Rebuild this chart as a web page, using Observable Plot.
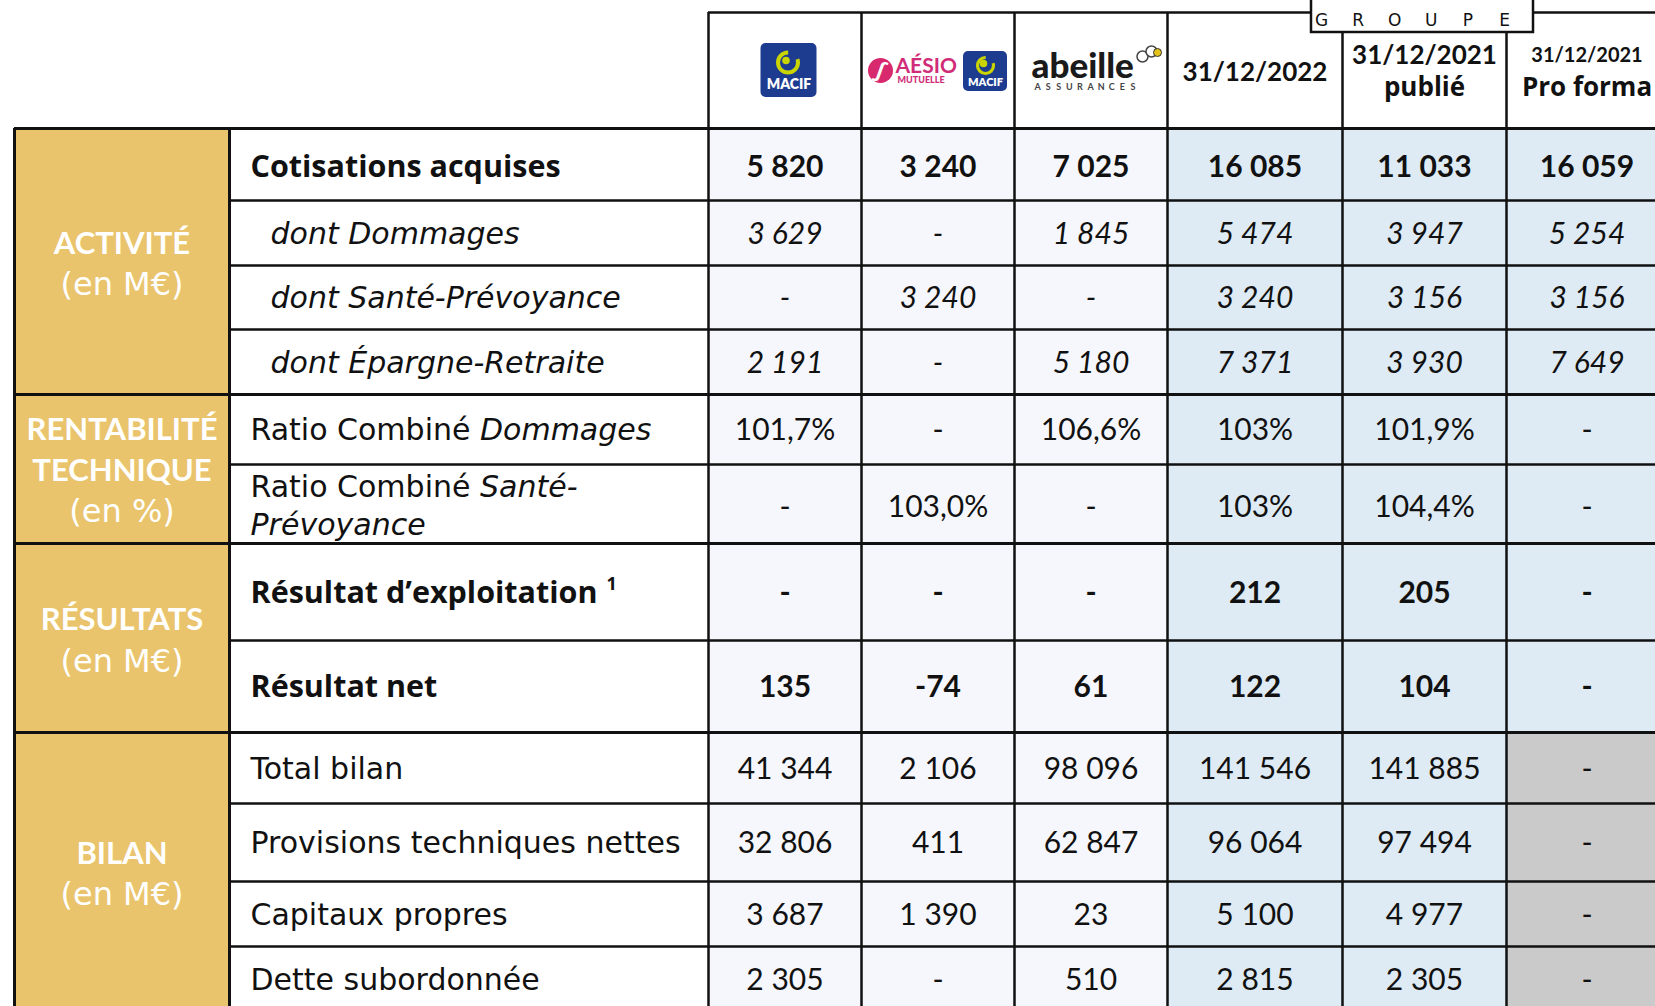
<!DOCTYPE html>
<html><head><meta charset="utf-8">
<script src="https://cdn.jsdelivr.net/npm/d3@7"></script>
<script src="https://cdn.jsdelivr.net/npm/@observablehq/plot@0.6"></script>
<style>html,body{margin:0;padding:0;background:#fff;overflow:hidden;} svg{display:block;}</style>
</head><body><div id="chart"></div>
<script>
// ---------- DATA ----------
const columns = ["MACIF", "AÉSIO mutuelle + MACIF", "Abeille Assurances", "31/12/2022", "31/12/2021 publié", "31/12/2021 Pro forma"];
const groups = ["ACTIVITÉ", "RENTABILITÉ|TECHNIQUE", "RÉSULTATS", "BILAN"];
const groupUnits = ["(en M€)", "(en %)", "(en M€)", "(en M€)"];
const rowLabels = ["Cotisations acquises", "dont Dommages", "dont Santé-Prévoyance", "dont Épargne-Retraite",
  "Ratio Combiné Dommages", "Ratio Combiné Santé-Prévoyance", "Résultat d’exploitation", "Résultat net",
  "Total bilan", "Provisions techniques nettes", "Capitaux propres", "Dette subordonnée"];
const rowGroup = [0, 0, 0, 0, 1, 1, 2, 2, 3, 3, 3, 3];
const rowStyle = ["bold", "italic", "italic", "italic", "normal", "normal", "bold", "bold", "normal", "normal", "normal", "normal"];

const cotisationsAcquises = [5820, 3240, 7025, 16085, 11033, 16059];
const dontDommages = [3629, null, 1845, 5474, 3947, 5254];
const dontSantePrevoyance = [null, 3240, null, 3240, 3156, 3156];
const dontEpargneRetraite = [2191, null, 5180, 7371, 3930, 7649];
const ratioCombineDommages = ["101,7%", null, "106,6%", "103%", "101,9%", null];
const ratioCombineSante = [null, "103,0%", null, "103%", "104,4%", null];
const resultatExploitation = [null, null, null, 212, 205, null];
const resultatNet = [135, -74, 61, 122, 104, null];
const totalBilan = [41344, 2106, 98096, 141546, 141885, null];
const provisionsTechniques = [32806, 411, 62847, 96064, 97494, null];
const capitauxPropres = [3687, 1390, 23, 5100, 4977, null];
const detteSubordonnee = [2305, null, 510, 2815, 2305, null];
const rows = [cotisationsAcquises, dontDommages, dontSantePrevoyance, dontEpargneRetraite, ratioCombineDommages,
  ratioCombineSante, resultatExploitation, resultatNet, totalBilan, provisionsTechniques, capitauxPropres, detteSubordonnee];

// label pieces (mixed styles)
const labelSegments = [
  [{t: "Cotisations acquises", s: "bold"}],
  [{t: "dont Dommages", s: "italic"}],
  [{t: "dont Santé-Prévoyance", s: "italic"}],
  [{t: "dont Épargne-Retraite", s: "italic"}],
  [{t: "Ratio Combiné ", s: "normal"}, {t: "Dommages", s: "italic"}],
  [{t: "Ratio Combiné ", s: "normal"}, {t: "Santé-", s: "italic"}, {t: "Prévoyance", s: "italic", line: 1}],
  [{t: "Résultat d’exploitation", s: "bold"}, {t: "1", s: "sup"}],
  [{t: "Résultat net", s: "bold"}],
  [{t: "Total bilan", s: "normal"}],
  [{t: "Provisions techniques nettes", s: "normal"}],
  [{t: "Capitaux propres", s: "normal"}],
  [{t: "Dette subordonnée", s: "normal"}]
];
const headerLines = [[], [], [], ["31/12/2022"], ["31/12/2021", "publié"], ["31/12/2021", "Pro forma"]];

// ---------- LAYOUT ----------
const W = 1655, H = 1006;
const F_LABEL = "DejaVu Sans", F_BOLD = "Open Sans", F_NUM = "Lato";
const colEdges = [708, 861, 1014, 1167, 1342, 1506, 1667];
const rowEdges = [128, 200, 265, 329, 394, 464, 543, 640, 732, 803, 881, 946, 1012];
const groupEdges = [128, 394, 543, 732, 1012];
const yellowX = [14, 229];
const headerTop = 12;
const labelX = 250, indentX = 270;
const FS = 30, FSB = 30.5;
const C = {yellow: "#E9C46C", light: "#F6F7FC", blue: "#DEEBF4", gray: "#CACACA", ink: "#111111", line: "#111111"};

const fmt = v => v == null ? "-" : typeof v === "string" ? v :
  (v < 0 ? "-" : "") + String(Math.abs(v)).replace(/\B(?=(\d{3})+(?!\d))/g, " ");

const ctx = document.createElement("canvas").getContext("2d");
function measure(text, s) {
  ctx.font = s === "bold" ? `normal 700 ${FSB}px "${F_BOLD}"` : s === "italic" ? `italic 400 ${FS}px "${F_LABEL}"` : `normal 400 ${FS}px "${F_LABEL}"`;
  return ctx.measureText(text).width;
}

// cells
const cells = [];
rows.forEach((vals, r) => vals.forEach((v, c) => {
  const x1 = colEdges[c], x2 = colEdges[c + 1], y1 = rowEdges[r], y2 = rowEdges[r + 1];
  const fill = (c === 5 && rowGroup[r] === 3) ? C.gray : c >= 3 ? C.blue : C.light;
  cells.push({r, c, x1, x2, y1, y2, cx: (x1 + x2) / 2, cy: (y1 + y2) / 2 + (r === 5 ? 3 : r === 0 ? 3 : 1), text: fmt(v), style: rowStyle[r], fill});
}));

// labels
const labelPieces = [];
labelSegments.forEach((segs, r) => {
  const y1 = rowEdges[r], y2 = rowEdges[r + 1];
  const twoLines = segs.some(s => s.line);
  let x = rowStyle[r] === "italic" ? indentX : labelX;
  segs.forEach(s => {
    if (s.line) { x = labelX; }
    const cy = twoLines ? (y1 + y2) / 2 + 2 + (s.line ? 19 : -19) : (y1 + y2) / 2 + (r === 0 ? 3 : 1);
    if (s.s === "sup") {
      labelPieces.push({x: x + 9, y: cy - 9, t: s.t, s: s.s});
    } else {
      labelPieces.push({x, y: cy, t: s.t, s: s.s});
      x += measure(s.t, s.s);
    }
  });
});

// group labels
const groupPieces = [];
groups.forEach((g, i) => {
  const lines = g.split("|").map(t => ({t, bold: true})).concat([{t: groupUnits[i], bold: false}]);
  const cy = (groupEdges[i] + Math.min(groupEdges[i + 1], H)) / 2 + (i === 3 ? 5 : i === 1 ? 2 : 3);
  const lh = 41;
  lines.forEach((l, k) => groupPieces.push({x: (yellowX[0] + yellowX[1]) / 2, y: cy + (k - (lines.length - 1) / 2) * lh, t: l.t, bold: l.bold}));
});

// header text
const headerPieces = [];
headerLines.forEach((lines, c) => {
  const cx = (colEdges[c] + colEdges[c + 1]) / 2;
  const cy = (headerTop + rowEdges[0]) / 2;
  lines.forEach((t, k) => headerPieces.push({x: cx, y: lines.length === 1 ? cy + 2 : cy + (k === 0 ? -15 : 17), t,
    kind: (c === 5 && k === 0) ? "small" : k === 1 ? "word" : "date"}));
});

// lines
const hLines = [];
rowEdges.slice(0, -1).forEach(y => hLines.push({y, x1: groupEdges.includes(y) ? yellowX[0] : yellowX[1], x2: W + 20, w: groupEdges.includes(y) ? 3 : 2.5}));
hLines.push({y: headerTop, x1: colEdges[0], x2: W + 20, w: 2.5});
const vLines = [
  {x: yellowX[0], y1: rowEdges[0], y2: H + 10, w: 3},
  {x: yellowX[1], y1: rowEdges[0], y2: H + 10, w: 3},
  ...colEdges.slice(0, -1).map((x, i) => ({x, y1: (i === 4 || i === 5) ? 32 : headerTop, y2: H + 10, w: 2.5}))
];

// logos (decorative, placed in header cells)
const hc = c => (colEdges[c] + colEdges[c + 1]) / 2;
const macifLogos = [
  {x1: hc(0) - 24, x2: hc(0) + 32, y1: 43, y2: 97, cx: hc(0) + 3, cy: 62, ty: 84},
  {x1: colEdges[1] + 102, x2: colEdges[1] + 146, y1: 51, y2: 91, cx: colEdges[1] + 124, cy: 65, ty: 82}
];
const groupeLetters = "GROUPE".split("").map((t, i) => ({t, x: 1321 + i * 36.6, y: 20}));
const assuranceLetters = "ASSURANCES".split("").map((t, i) => ({t, x: colEdges[2] + 23 + i * 10.6, y: 87}));

const chart = Plot.plot({
  width: W, height: H, margin: 0,
  x: {type: "linear", domain: [0, W], range: [0, W], axis: null},
  y: {type: "linear", domain: [0, H], range: [0, H], axis: null},
  style: {fontFamily: F_NUM, background: "#fff", color: C.ink},
  marks: [
    // fills
    Plot.rect([{}], {x1: () => yellowX[0], x2: () => yellowX[1], y1: () => rowEdges[0], y2: () => H + 10, fill: C.yellow}),
    Plot.rect(cells, {x1: "x1", x2: "x2", y1: "y1", y2: "y2", fill: d => d.fill}),
    // grid
    Plot.ruleY(hLines.filter(d => d.w === 2.5), {y: "y", x1: "x1", x2: "x2", stroke: C.line, strokeWidth: 2.5}),
    Plot.ruleY(hLines.filter(d => d.w === 3), {y: "y", x1: "x1", x2: "x2", stroke: C.line, strokeWidth: 3}),
    Plot.ruleX(vLines.filter(d => d.w === 2.5), {x: "x", y1: "y1", y2: "y2", stroke: C.line, strokeWidth: 2.5}),
    Plot.ruleX(vLines.filter(d => d.w === 3), {x: "x", y1: "y1", y2: "y2", stroke: C.line, strokeWidth: 3}),
    // GROUPE box
    Plot.rect([{}], {x1: () => 1311, x2: () => 1533, y1: () => -10, y2: () => 32, fill: "#fff", stroke: C.line, strokeWidth: 2.5}),
    Plot.text(groupeLetters, {x: "x", y: "y", text: "t", fontSize: 17, fontFamily: F_LABEL, fill: C.ink}),
    // MACIF logos
    Plot.rect(macifLogos, {x1: "x1", x2: "x2", y1: "y1", y2: "y2", fill: "#1D3C8F", rx: 5}),
    Plot.dot(macifLogos.slice(0, 1), {x: "cx", y: "cy", r: 10, stroke: "#C9D400", strokeWidth: 4, fill: "none", strokeDasharray: "47,12,10"}),
    Plot.dot(macifLogos.slice(1), {x: "cx", y: "cy", r: 8, stroke: "#C9D400", strokeWidth: 3.2, fill: "none", strokeDasharray: "37.7,9.8,10"}),
    Plot.dot(macifLogos, {x: d => d.cx - 2, y: d => d.cy - 2, r: 3.8, fill: "#C9D400"}),
    Plot.text(macifLogos.slice(0, 1), {x: d => (d.x1 + d.x2) / 2, y: "ty", text: () => "MACIF", fontSize: 14, fontWeight: 800, fill: "#fff"}),
    Plot.text(macifLogos.slice(1), {x: d => (d.x1 + d.x2) / 2, y: "ty", text: () => "MACIF", fontSize: 11, fontWeight: 800, fill: "#fff"}),
    // AESIO logo
    Plot.dot([{x: colEdges[1] + 19, y: 70}], {x: "x", y: "y", r: 12.5, fill: "#D8286E"}),
    Plot.text([{x: colEdges[1] + 19, y: 70}], {x: "x", y: "y", text: () => "ʃ", fontSize: 24, fontWeight: 700, fill: "#fff", rotate: 20}),
    Plot.text([{x: colEdges[1] + 34, y: 66}], {x: "x", y: "y", text: () => "AÉSIO", fontSize: 21, fontWeight: 700, fill: "#D02C78", textAnchor: "start"}),
    Plot.text([{x: colEdges[1] + 36, y: 80}], {x: "x", y: "y", text: () => "MUTUELLE", fontSize: 9, fontWeight: 900, fill: "#D02C78", textAnchor: "start"}),
    // Abeille logo
    Plot.text([{x: colEdges[2] + 17, y: 66}], {x: "x", y: "y", text: () => "abeille", fontSize: 35, fontWeight: 900, fill: "#1A1A1A", textAnchor: "start"}),
    Plot.text(assuranceLetters, {x: "x", y: "y", text: "t", fontSize: 9, fontWeight: 700, fill: "#444"}),
    Plot.dot([{x: colEdges[2] + 128, y: 56}, {x: colEdges[2] + 137, y: 51}], {x: "x", y: "y", r: 5.5, stroke: "#444", strokeWidth: 1.5, fill: "#fff"}),
    Plot.dot([{x: colEdges[2] + 143, y: 52}], {x: "x", y: "y", r: 4, fill: "#E3C21A", stroke: "#333", strokeWidth: 1}),
    // header dates
    Plot.text(headerPieces.filter(d => d.kind === "date"), {x: "x", y: "y", text: "t", fontSize: 26, fontWeight: 700, fill: C.ink}),
    Plot.text(headerPieces.filter(d => d.kind === "word"), {x: "x", y: "y", text: "t", fontSize: 26, fontWeight: 700, fontFamily: F_BOLD, fill: C.ink}),
    Plot.text(headerPieces.filter(d => d.kind === "small"), {x: "x", y: "y", text: "t", fontSize: 20, fontWeight: 700, fill: C.ink}),
    // group labels
    Plot.text(groupPieces.filter(d => d.bold), {x: "x", y: "y", text: "t", fontSize: 31, fontWeight: 700, fill: "#fff"}),
    Plot.text(groupPieces.filter(d => !d.bold), {x: "x", y: "y", text: "t", fontSize: 32, fontFamily: F_LABEL, fill: "#fff"}),
    // row labels
    Plot.text(labelPieces.filter(d => d.s === "normal"), {x: "x", y: "y", text: "t", fontSize: FS, fontFamily: F_LABEL, textAnchor: "start", fill: C.ink}),
    Plot.text(labelPieces.filter(d => d.s === "bold"), {x: "x", y: "y", text: "t", fontSize: FSB, fontFamily: F_BOLD, fontWeight: 700, textAnchor: "start", fill: C.ink}),
    Plot.text(labelPieces.filter(d => d.s === "italic"), {x: "x", y: "y", text: "t", fontSize: FS, fontFamily: F_LABEL, fontStyle: "italic", textAnchor: "start", fill: C.ink}),
    Plot.text(labelPieces.filter(d => d.s === "sup"), {x: "x", y: "y", text: "t", fontSize: 18, fontFamily: F_BOLD, fontWeight: 700, textAnchor: "start", fill: C.ink}),
    // values
    Plot.text(cells.filter(d => d.style === "normal"), {x: "cx", y: "cy", text: "text", fontSize: FS, fill: C.ink}),
    Plot.text(cells.filter(d => d.style === "bold"), {x: "cx", y: "cy", text: "text", fontSize: FS, fontWeight: 700, fill: C.ink}),
    Plot.text(cells.filter(d => d.style === "italic"), {x: "cx", y: "cy", text: "text", fontSize: FS, fontStyle: "italic", fill: C.ink})
  ]
});
document.getElementById("chart").append(chart);
</script>
</body></html>
